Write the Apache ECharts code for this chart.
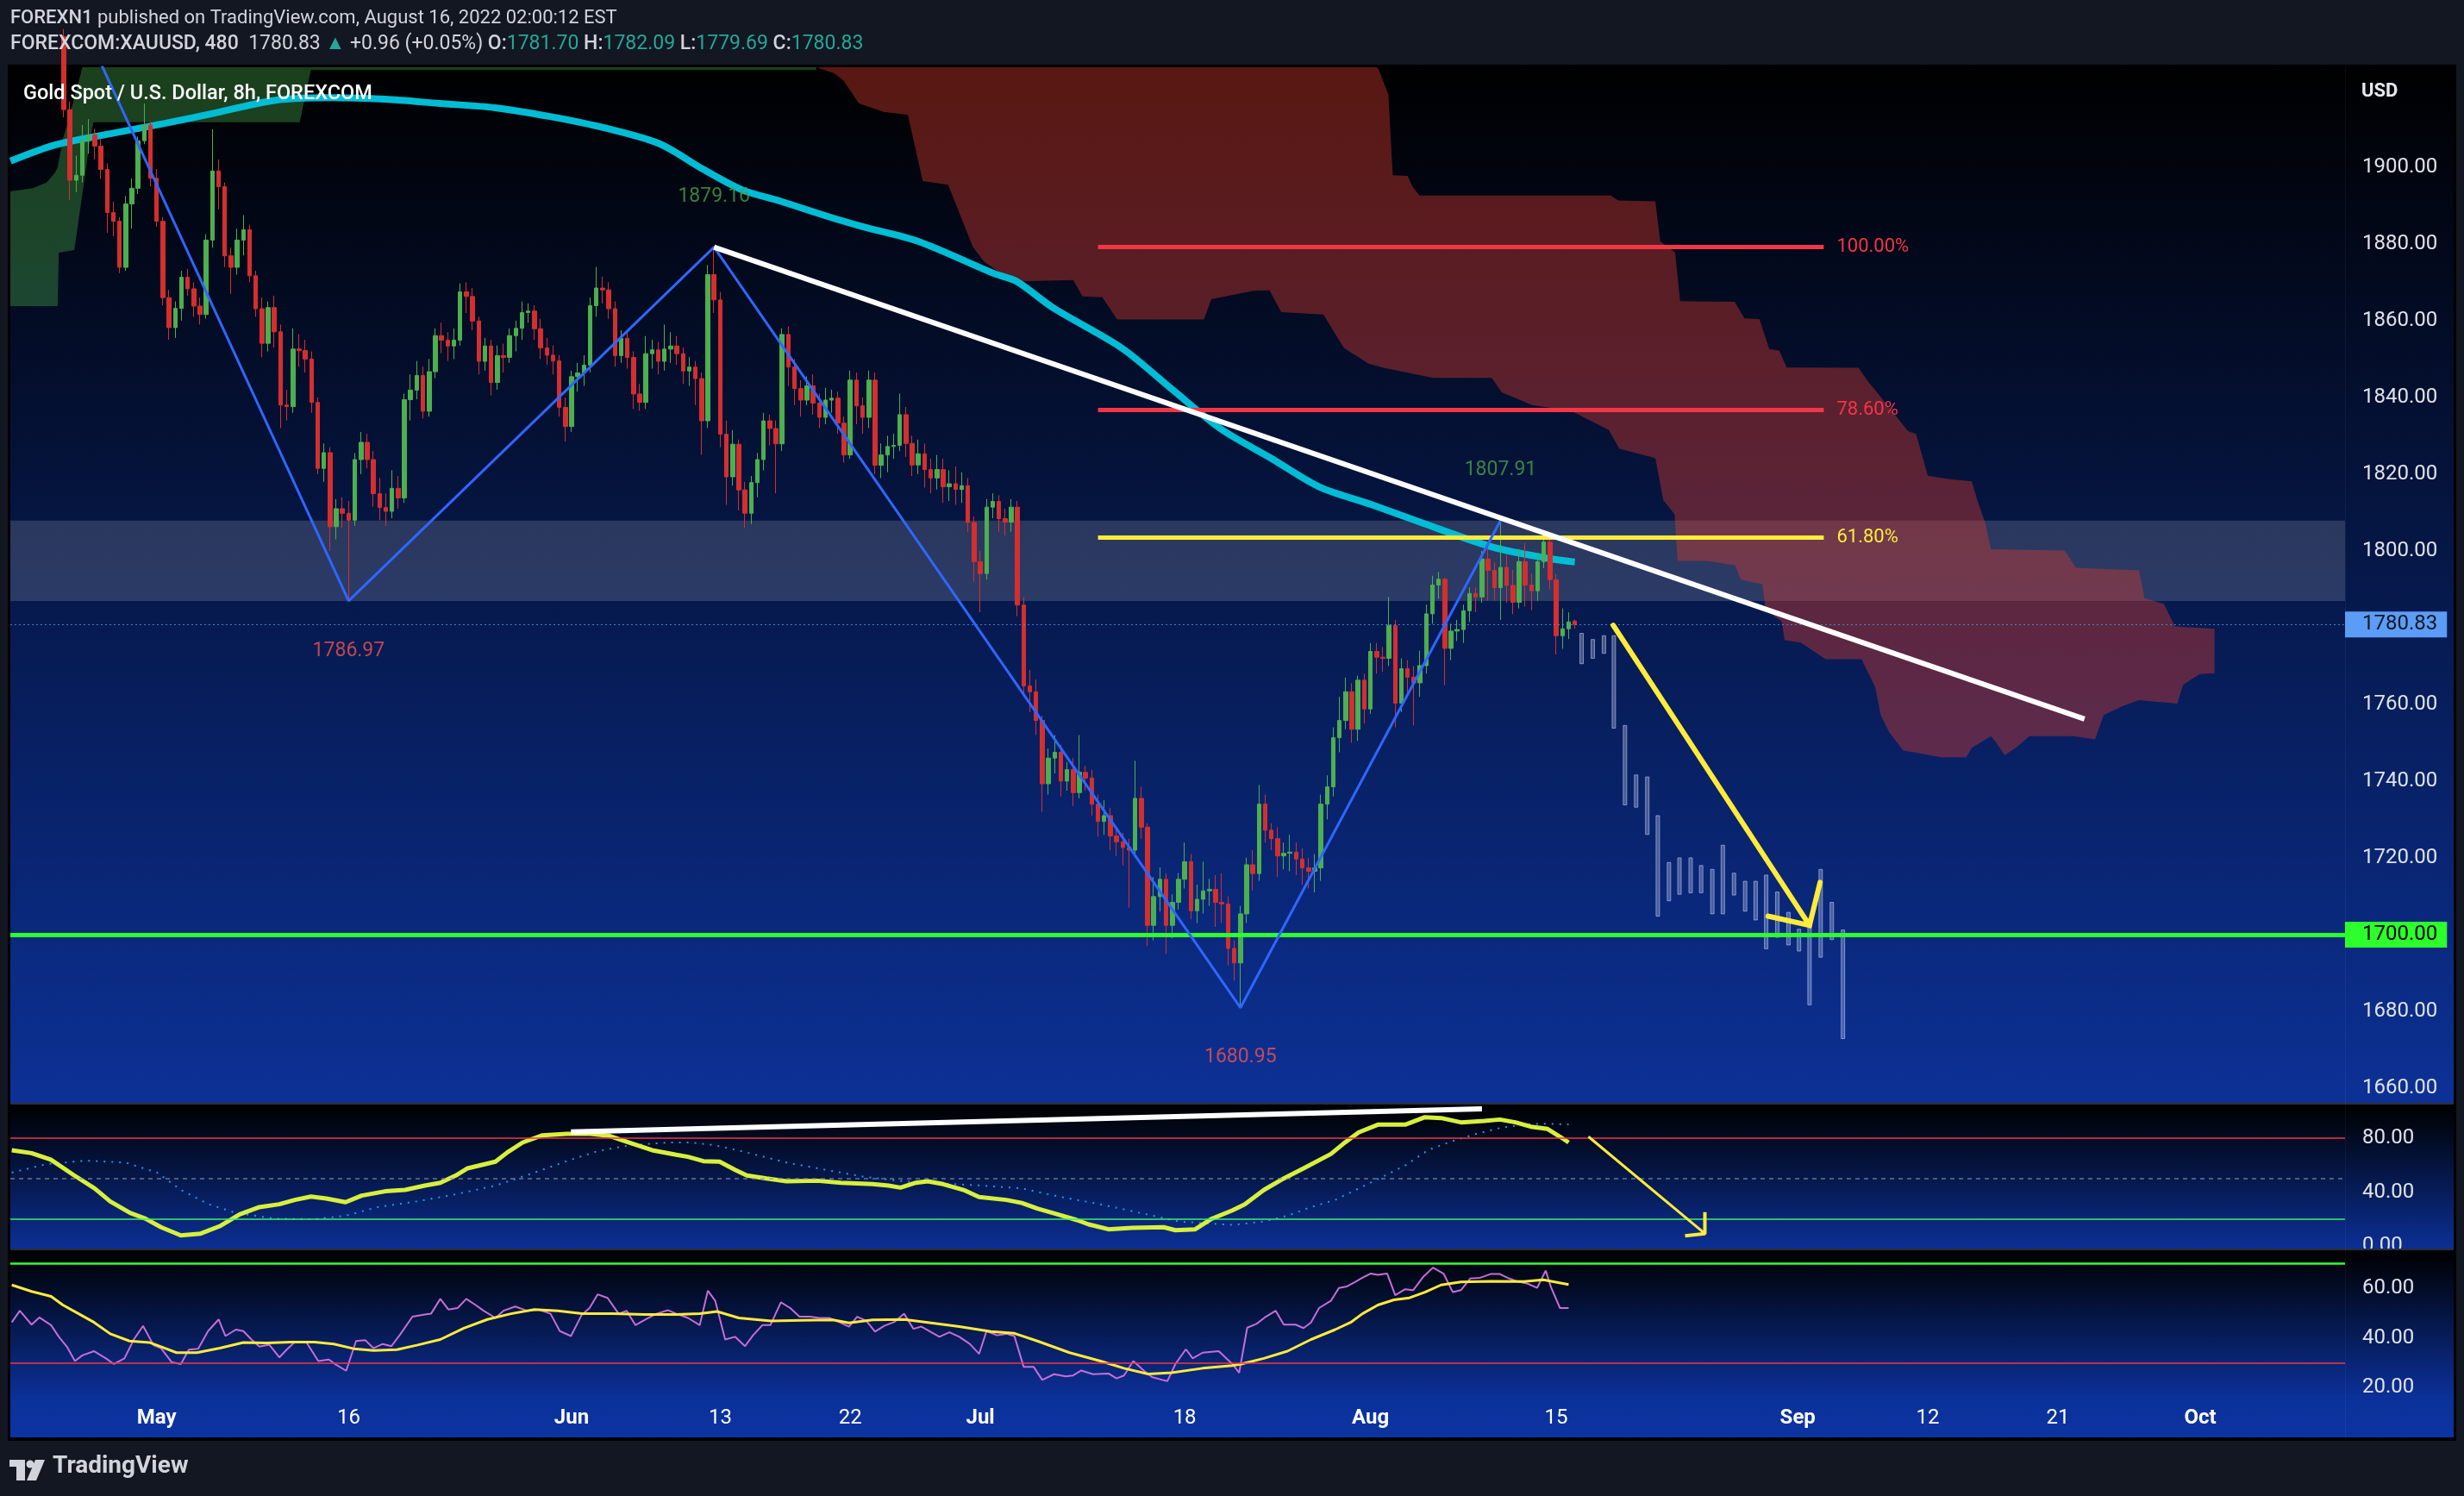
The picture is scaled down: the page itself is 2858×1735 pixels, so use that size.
<!DOCTYPE html>
<html><head><meta charset="utf-8">
<script src="https://cdn.jsdelivr.net/npm/echarts@6/dist/echarts.min.js"></script>
<style>html,body{margin:0;padding:0;background:#131722;}#c{width:2858px;height:1735px;}</style>
</head><body><div id="c"></div>
<script>
// ---------------- DATA ----------------
const tickBars  = [22, 53, 89, 113, 134, 155, 188, 218, 248, 287, 308, 329, 352];
const tickTexts = ['May','16','Jun','13','22','Jul','18','Aug','15','Sep','12','21','Oct'];
const priceTicks = [1660,1680,1700,1720,1740,1760,1780,1800,1820,1840,1860,1880,1900];
const stochTicks = [0,40,80];
const rsiTicks = [20,40,60];

const firstBar = 7;
// [open, high, low, close] for 8h bars starting at firstBar
const candles = [
[1934.0,1936.0,1913.0,1915.0],[1915.0,1917.0,1891.5,1896.6],[1896.6,1903.0,1893.5,1897.9],[1897.9,1911.0,1896.0,1906.9],
[1906.9,1912.5,1903.5,1908.4],[1908.4,1910.0,1902.0,1905.5],[1905.5,1907.5,1897.0,1899.4],[1899.4,1901.0,1882.9,1888.2],
[1888.2,1891.0,1882.0,1885.9],[1885.9,1887.0,1872.4,1873.9],[1873.9,1892.5,1873.0,1890.4],[1890.4,1897.1,1884.0,1894.5],
[1894.5,1908.0,1893.0,1906.9],[1906.9,1916.6,1906.0,1911.0],[1911.0,1912.0,1895.0,1897.1],[1897.1,1899.5,1884.5,1885.9],
[1885.9,1887.0,1864.0,1866.0],[1866.0,1868.0,1855.0,1858.2],[1858.2,1865.0,1855.5,1863.2],[1863.2,1873.0,1860.0,1871.3],
[1871.3,1873.5,1866.5,1868.3],[1868.3,1870.0,1861.0,1863.8],[1863.8,1866.0,1859.0,1861.6],[1861.6,1882.5,1860.5,1881.0],
[1881.0,1909.9,1879.0,1899.0],[1899.0,1902.0,1889.0,1894.9],[1894.9,1896.0,1874.0,1876.9],[1876.9,1879.0,1867.0,1873.9],
[1873.9,1884.0,1872.0,1881.0],[1881.0,1887.5,1877.0,1883.7],[1883.7,1885.0,1870.0,1871.7],[1871.7,1873.0,1861.0,1863.1],
[1863.1,1866.0,1850.5,1854.1],[1854.1,1865.0,1852.0,1863.4],[1863.4,1866.5,1853.0,1857.1],[1857.1,1859.0,1832.0,1838.0],
[1838.0,1842.0,1834.0,1837.6],[1837.6,1858.0,1836.0,1852.6],[1852.6,1856.5,1848.0,1852.2],[1852.2,1855.0,1846.5,1850.0],
[1850.0,1852.0,1836.0,1838.7],[1838.7,1840.0,1820.0,1821.5],[1821.5,1828.0,1818.0,1825.6],[1825.6,1827.0,1800.0,1806.3],
[1806.3,1813.5,1803.0,1811.0],[1811.0,1814.0,1806.0,1809.8],[1809.8,1813.0,1786.97,1808.0],[1808.0,1825.5,1806.5,1823.8],
[1823.8,1831.0,1820.0,1828.3],[1828.3,1830.5,1821.5,1823.8],[1823.8,1826.0,1811.5,1814.9],[1814.9,1819.0,1808.0,1811.3],
[1811.3,1815.0,1806.5,1810.3],[1810.3,1821.0,1808.5,1816.3],[1816.3,1819.5,1811.0,1813.8],[1813.8,1841.0,1812.5,1839.4],
[1839.4,1846.0,1834.0,1841.9],[1841.9,1849.5,1839.5,1845.7],[1845.7,1848.0,1834.5,1836.4],[1836.4,1850.0,1835.0,1846.7],
[1846.7,1858.0,1845.0,1856.1],[1856.1,1859.5,1851.5,1854.9],[1854.9,1857.0,1849.5,1853.4],[1853.4,1858.0,1850.0,1854.9],
[1854.9,1869.7,1853.5,1867.5],[1867.5,1870.0,1862.0,1866.3],[1866.3,1868.5,1857.5,1859.9],[1859.9,1861.0,1846.0,1849.4],
[1849.4,1855.5,1847.0,1853.4],[1853.4,1855.0,1840.5,1843.9],[1843.9,1853.5,1842.0,1850.9],[1850.9,1854.0,1846.5,1850.4],
[1850.4,1858.0,1849.0,1856.1],[1856.1,1860.0,1852.0,1858.0],[1858.0,1865.0,1855.0,1862.1],[1862.1,1864.5,1859.5,1862.5],
[1862.5,1864.0,1855.0,1857.9],[1857.9,1860.5,1850.0,1852.9],[1852.9,1855.5,1848.5,1851.0],[1851.0,1853.5,1846.0,1849.5],
[1849.5,1851.0,1835.0,1837.4],[1837.4,1840.0,1828.5,1832.4],[1832.4,1847.0,1831.0,1845.4],[1845.4,1849.0,1841.5,1846.4],
[1846.4,1851.0,1843.0,1848.4],[1848.4,1866.0,1846.5,1863.9],[1863.9,1874.0,1861.0,1868.5],[1868.5,1871.5,1864.5,1868.0],
[1868.0,1870.0,1860.5,1863.1],[1863.1,1865.0,1848.0,1850.9],[1850.9,1857.5,1849.0,1855.4],[1855.4,1857.0,1847.5,1850.4],
[1850.4,1852.0,1837.0,1840.9],[1840.9,1843.5,1836.5,1838.7],[1838.7,1856.0,1837.0,1851.4],[1851.4,1855.0,1847.5,1852.4],
[1852.4,1854.5,1846.0,1849.4],[1849.4,1859.0,1847.0,1852.6],[1852.6,1857.0,1849.0,1853.4],[1853.4,1856.0,1848.5,1851.4],
[1851.4,1853.0,1843.5,1846.9],[1846.9,1850.5,1843.0,1847.9],[1847.9,1849.5,1838.0,1844.9],[1844.9,1846.5,1825.0,1833.9],
[1833.9,1874.5,1832.0,1872.0],[1872.0,1879.16,1862.0,1865.4],[1865.4,1867.5,1827.0,1830.4],[1830.4,1834.0,1812.0,1819.3],
[1819.3,1831.5,1817.0,1827.8],[1827.8,1829.0,1810.5,1815.9],[1815.9,1818.0,1806.0,1809.8],[1809.8,1819.5,1807.0,1817.8],
[1817.8,1825.5,1814.0,1823.8],[1823.8,1836.0,1821.0,1833.9],[1833.9,1835.5,1827.5,1831.9],[1831.9,1834.0,1815.0,1827.9],
[1827.9,1858.0,1826.0,1856.4],[1856.4,1858.5,1843.0,1847.9],[1847.9,1850.0,1838.0,1842.3],[1842.3,1844.5,1835.0,1839.3],
[1839.3,1845.5,1838.0,1843.0],[1843.0,1846.0,1835.5,1838.5],[1838.5,1841.0,1832.0,1834.8],[1834.8,1842.5,1833.0,1839.3],
[1839.3,1842.0,1836.0,1839.8],[1839.8,1841.5,1830.5,1833.3],[1833.3,1835.0,1823.0,1825.0],[1825.0,1847.0,1824.0,1844.5],
[1844.5,1846.5,1833.0,1837.8],[1837.8,1840.0,1830.5,1834.8],[1834.8,1847.0,1832.0,1844.5],[1844.5,1846.5,1820.0,1822.3],
[1822.3,1828.0,1819.0,1825.0],[1825.0,1830.0,1820.5,1827.2],[1827.2,1830.5,1824.0,1827.5],[1827.5,1841.0,1826.0,1835.5],
[1835.5,1837.5,1824.5,1828.0],[1828.0,1830.0,1819.5,1822.4],[1822.4,1829.0,1820.0,1825.3],[1825.3,1828.0,1816.5,1821.2],
[1821.2,1824.0,1815.0,1819.0],[1819.0,1825.0,1816.0,1821.2],[1821.2,1824.0,1812.5,1816.7],[1816.7,1821.0,1813.0,1817.5],
[1817.5,1822.0,1812.0,1816.0],[1816.0,1820.5,1812.5,1817.0],[1817.0,1819.0,1805.0,1807.4],[1807.4,1809.0,1792.0,1797.2],
[1797.2,1800.0,1784.0,1794.1],[1794.1,1813.5,1792.5,1811.4],[1811.4,1815.0,1808.5,1812.9],[1812.9,1814.5,1805.0,1808.4],
[1808.4,1811.0,1804.0,1807.5],[1807.5,1813.5,1805.0,1811.4],[1811.4,1813.0,1783.0,1785.9],[1785.9,1788.0,1762.0,1764.8],
[1764.8,1769.0,1758.0,1763.3],[1763.3,1766.5,1752.0,1755.8],[1755.8,1757.0,1732.0,1739.3],[1739.3,1748.5,1736.5,1746.0],
[1746.0,1752.0,1742.0,1747.5],[1747.5,1749.5,1736.0,1740.0],[1740.0,1745.0,1737.5,1743.0],[1743.0,1746.0,1733.5,1737.0],
[1737.0,1752.0,1735.5,1742.3],[1742.3,1744.0,1737.5,1740.8],[1740.8,1743.0,1731.0,1734.0],[1734.0,1736.5,1725.5,1729.5],
[1729.5,1735.0,1726.0,1731.0],[1731.0,1733.0,1722.0,1725.7],[1725.7,1728.0,1720.5,1724.2],[1724.2,1726.5,1718.0,1722.7],
[1722.7,1725.0,1707.0,1722.0],[1722.0,1745.3,1720.0,1735.5],[1735.5,1738.5,1725.0,1728.0],[1728.0,1729.0,1697.0,1702.4],
[1702.4,1715.0,1698.5,1709.9],[1709.9,1717.5,1706.0,1714.4],[1714.4,1716.0,1695.0,1702.4],[1702.4,1710.5,1699.0,1708.4],
[1708.4,1716.0,1706.5,1714.4],[1714.4,1724.0,1712.0,1719.0],[1719.0,1721.0,1704.0,1706.2],[1706.2,1713.0,1703.0,1709.2],
[1709.2,1719.0,1705.5,1711.4],[1711.4,1714.5,1707.5,1711.8],[1711.8,1715.5,1702.0,1708.4],[1708.4,1716.0,1703.0,1708.0],
[1708.0,1710.0,1692.0,1696.4],[1696.4,1698.5,1688.0,1692.6],[1692.6,1707.5,1680.95,1705.4],[1705.4,1720.0,1703.0,1718.2],
[1718.2,1722.0,1711.5,1715.9],[1715.9,1739.0,1714.0,1734.0],[1734.0,1736.5,1724.0,1727.2],[1727.2,1729.0,1722.0,1725.0],
[1725.0,1728.0,1715.0,1720.5],[1720.5,1724.0,1717.0,1721.2],[1721.2,1726.0,1716.5,1721.5],[1721.5,1724.0,1715.5,1719.7],
[1719.7,1722.5,1713.0,1717.4],[1717.4,1720.0,1712.0,1716.5],[1716.5,1721.0,1711.0,1717.4],[1717.4,1736.5,1714.0,1734.0],
[1734.0,1741.5,1730.0,1738.5],[1738.5,1754.0,1736.0,1751.3],[1751.3,1762.0,1747.5,1755.8],[1755.8,1767.0,1753.5,1763.3],
[1763.3,1765.5,1750.0,1753.5],[1753.5,1767.5,1750.5,1766.3],[1766.3,1768.0,1755.0,1758.8],[1758.8,1776.0,1757.5,1773.8],
[1773.8,1776.0,1768.0,1772.3],[1772.3,1775.0,1768.5,1772.0],[1772.0,1788.0,1770.0,1780.6],[1780.6,1782.0,1754.0,1760.3],
[1760.3,1772.0,1758.0,1769.3],[1769.3,1771.5,1763.0,1767.1],[1767.1,1770.0,1754.5,1765.6],[1765.6,1774.0,1762.0,1770.1],
[1770.1,1786.0,1768.0,1783.6],[1783.6,1793.5,1781.0,1791.1],[1791.1,1794.5,1787.5,1792.6],[1792.6,1793.0,1765.0,1774.6],
[1774.6,1781.0,1771.5,1779.1],[1779.1,1782.0,1776.5,1779.5],[1779.5,1786.0,1776.0,1784.4],[1784.4,1790.5,1781.5,1788.9],
[1788.9,1790.5,1784.0,1788.0],[1788.0,1800.0,1786.5,1797.9],[1797.9,1801.0,1787.0,1794.9],[1794.9,1797.0,1787.0,1790.4],
[1790.4,1807.91,1782.0,1795.7],[1795.7,1799.0,1786.5,1791.0],[1791.0,1795.0,1783.5,1786.6],[1786.6,1800.5,1785.0,1797.2],
[1797.2,1802.0,1785.5,1791.1],[1791.1,1794.0,1784.5,1789.6],[1789.6,1799.5,1787.0,1797.2],[1797.2,1803.5,1795.5,1802.3],
[1802.3,1804.0,1790.0,1792.5],[1792.5,1794.0,1773.0,1777.9],[1777.9,1785.0,1774.5,1779.7],[1779.7,1784.0,1777.0,1781.5],
[1781.70,1782.09,1779.69,1780.83]
];

// moving average (cyan), [bar, price]
const maLine = [[-1.6,1901.6],[5.6,1905.8],[14.5,1908.7],[23.3,1911.4],[32.2,1914.4],[41.0,1917.4],[50.0,1918.1],[58.8,1917.7],
[67.7,1916.6],[76.6,1915.5],[85.5,1913.2],[94.4,1910.2],[103.2,1906.1],[110.3,1899.4],[116.5,1894.1],[122.8,1891.1],[129.9,1887.4],
[136.0,1884.5],[144.9,1880.7],[157.2,1872.3],[160.9,1870.2],[166.8,1863.3],[177.9,1852.8],[185.9,1842.2],[193.9,1831.7],[201.9,1824.2],
[209.7,1816.7],[217.9,1812.2],[225.8,1807.6],[237.9,1800.9],[247.3,1797.9],[251,1797.1]];

// ichimoku cloud boundaries, [bar, price]
const greenCloudUpper = [[-3,1893.4],[2.0,1894.5],[4.2,1896.0],[5.6,1898.6],[6.0,1900.0],[6.9,1907.6],[8.2,1915.0],[10.0,1928],[10.5,1945],[128.5,1945]];
const greenCloudLower = [[-3,1863.8],[6.0,1863.8],[6.2,1877.7],[8.7,1878.4],[10.0,1893.0],[11.3,1908.0],[11.8,1911.7],[45.1,1911.7],[46.9,1925.3],[128.5,1925.3]];
const redCloudUpper = [[128.5,1945],[219.0,1945],[219.3,1925.6],[220.9,1918.9],[221.6,1897.9],[224.0,1897.7],[224.8,1894.9],[225.9,1892.6],
[256.8,1892.6],[258.0,1891.3],[264.0,1891.1],[264.8,1880.7],[267.2,1877.7],[268.0,1865.1],[276.8,1864.9],[278.4,1860.6],[280.8,1860.4],
[282.4,1852.6],[284.0,1852.2],[285.2,1847.8],[296.8,1847.7],[298.4,1844.0],[299.6,1841.7],[304.8,1831.2],[306.1,1830.5],[308.0,1819.6],
[311.5,1818.7],[315.1,1818.1],[316.0,1813.2],[317.3,1807.1],[318.2,1800.4],[330.1,1800.1],[331.9,1795.6],[342.1,1794.9],[343.0,1787.6],
[346.1,1786.2],[347.9,1780.3],[354.3,1779.7]];
const redCloudLower = [[128.5,1930],[131.3,1924.5],[132.9,1922.6],[135.4,1916.6],[139.4,1914.4],[143.3,1913.6],[145.7,1896.4],[149.8,1895.4],
[153.8,1879.2],[155.6,1875.4],[160.1,1870.2],[170.0,1870.6],[171.5,1866.3],[174.7,1866.1],[177.1,1860.3],[191.1,1860.3],[192.3,1865.6],
[199.1,1867.8],[201.7,1867.9],[203.6,1862.2],[210.4,1861.6],[213.7,1852.9],[217.7,1848.8],[220.1,1847.7],[228.1,1845.1],[237.6,1845.1],
[239.2,1841.3],[244.1,1838.0],[250.4,1836.5],[256.5,1831.5],[258.2,1826.6],[264.0,1824.2],[265.3,1813.2],[267.1,1809.6],[267.6,1797.4],
[272.4,1797.4],[276.9,1796.2],[277.8,1792.5],[281.3,1791.3],[281.8,1784.6],[284.4,1781.6],[284.9,1776.7],[287.5,1776.1],[291.5,1771.8],
[297.3,1771.8],[299.5,1764.5],[300.4,1757.2],[301.7,1752.9],[304.0,1748.0],[310.2,1746.2],[314.2,1746.2],[315.1,1748.7],[318.2,1751.7],
[319.1,1749.9],[320.4,1746.8],[322.2,1748.7],[324.4,1751.7],[331.5,1751.7],[335.0,1750.9],[336.4,1757.2],[339.5,1759.6],[342.1,1761.1],
[348.3,1760.2],[349.2,1765.1],[351.9,1767.9],[354.3,1768.1]];

// zigzag pivots
const zigzagBars   = [-5, 53, 112, 197, 239];
const zigzagPrices = [1990, 1786.97, 1879.16, 1680.95, 1807.91];
const pivotLabelBars   = [112, 53, 197, 239];
const pivotLabelPrices = [1879.16, 1786.97, 1680.95, 1807.91];
const pivotIsHigh      = [true, false, false, true];

// drawings
const trendLine = [[112,1879.16],[333.3,1756.2]];
const fibLevels = [1879.16, 1836.75, 1803.44];
const fibTexts  = ['100.00%','78.60%','61.80%'];
const fibFrom = 174.0, fibTo = 291.2;
const zoneLow = 1786.97, zoneHigh = 1807.91;
const supportLevel = 1700;
const lastPrice = 1780.83;
const projArrow = [[257.2,1780.6],[288.9,1702.4]];
const projArrowHead = [[282.2,1704.8],[288.9,1702.4],[290.6,1713.6]];
// projected "bars pattern": [bar, high, low]
const ghostBars = [[252.1,1778.5,1770.6],[253.9,1776.9,1772.0],[255.7,1777.9,1773.3],[257.3,1777.9,1753.8],[259.1,1754.5,1733.8],
[260.9,1741.6,1733.2],[262.7,1741.1,1726.1],[264.4,1731.0,1704.8],[266.2,1718.8,1708.8],[267.9,1720.0,1710.5],[269.7,1720.0,1710.9],
[271.4,1718.0,1710.9],[273.2,1717.0,1705.4],[274.9,1723.3,1705.4],[276.7,1716.0,1710.3],[278.5,1713.9,1706.1],[280.2,1713.9,1703.8],
[281.9,1715.5,1696.3],[283.7,1711.1,1699.3],[285.5,1705.8,1697.3],[287.2,1701.4,1695.7],[288.9,1704.2,1681.7],[290.7,1717.0,1694.1],
[292.5,1708.4,1698.7],[294.3,1701.2,1672.9]];

// stochastic
const stochK = [[-1.4,71.1],[1.8,68.9],[4.9,64.1],[8.7,52.4],[12.0,42.8],[14.5,33.2],[17.7,24.7],[20.2,20.4],[22.7,14.1],[25.9,8.1],
[29.1,9.4],[32.3,15.1],[35.4,23.6],[38.6,29.0],[41.8,31.1],[44.3,34.3],[46.9,36.8],[49.4,35.3],[52.5,32.6],[55.1,37.5],[58.9,40.7],
[62.1,41.7],[65.3,44.9],[67.8,47.0],[70.3,52.4],[72.2,57.7],[76.7,62.6],[78.6,69.4],[81.1,76.8],[84.3,82.1],[88.2,83.2],[92.0,83.2],
[95.1,81.7],[98.3,76.8],[102.0,71.1],[105.9,67.7],[107.8,66.2],[110.3,63.0],[112.9,62.6],[115.4,56.6],[117.3,52.4],[120.5,50.2],
[123.7,48.1],[128.7,48.5],[132.5,47.0],[137.6,46.0],[140.2,44.9],[142.1,43.4],[144.6,47.0],[146.5,48.1],[149.0,46.0],[152.3,41.7],
[154.8,36.4],[159.2,34.3],[161.7,32.1],[164.2,27.9],[167.5,23.6],[170.6,19.4],[172.5,16.2],[175.7,12.6],[179.5,13.6],[184.6,14.1],
[186.5,11.9],[189.7,12.6],[192.2,20.0],[195.7,26.6],[197.7,31.1],[200.8,41.7],[204.0,50.2],[207.2,57.7],[211.6,68.3],[213.6,75.8],
[216.1,84.3],[219.2,90.0],[223.6,90.0],[226.8,95.5],[229.4,94.9],[232.6,91.7],[236.4,92.8],[238.9,93.8],[241.4,91.7],[243.9,88.5],
[246.6,86.8],[248.6,81.1],[250.0,76.8]];
const stochD = [[-1.4,54.5],[4.3,60.9],[10.6,63.4],[17.0,61.9],[22.1,54.5],[25.9,41.7],[30.4,31.1],[34.8,24.7],[41.1,20.4],[47.5,20.0],
[52.5,22.6],[57.7,29.0],[64.0,33.2],[70.3,38.5],[76.7,44.9],[83.0,54.5],[88.2,63.0],[93.2,70.4],[98.3,74.7],[104.7,76.8],[108.4,76.8],
[112.2,74.7],[117.3,69.4],[123.7,62.0],[130.0,56.6],[136.4,51.3],[142.7,48.1],[149.0,46.4],[155.4,44.9],[161.7,42.8],[168.1,36.4],
[174.4,31.1],[180.8,24.7],[187.1,18.3],[195.7,15.8],[200.8,18.3],[204.6,22.6],[208.4,29.0],[212.3,34.3],[216.1,42.8],[219.9,51.3],
[223.6,59.8],[227.4,71.5],[231.3,77.9],[235.1,83.2],[238.9,87.5],[242.8,90.2],[245.9,90.7],[250.0,90.2]];
const stochTrend = [[88.9,84.7],[236.0,101.7]];
const stochArrow = [[253.2,81.1],[272.0,9.4]];
const stochArrowHead = [[268.8,7.7],[272.0,9.4],[272.0,25.3]];

// RSI
const rsi = [[-1.4,46.3],[-0.1,51.0],[1.8,45.4],[3.05,48.3],[4.95,45.2],[6.2,40.5],[7.5,36.5],[8.8,30.7],[10.0,33.0],[11.9,34.7],
[13.8,31.8],[15.1,29.5],[16.8,31.8],[18.3,39.4],[19.8,44.9],[21.5,37.1],[22.7,35.9],[24.4,30.3],[25.9,29.5],[27.2,35.3],[28.7,35.7],
[30.3,42.8],[32.0,47.5],[33.1,40.8],[34.8,43.4],[36.0,42.8],[37.3,39.4],[38.6,36.5],[40.2,37.3],[41.8,32.2],[43.0,35.3],[44.3,38.4],
[46.2,38.2],[48.1,30.7],[49.8,31.3],[51.0,29.2],[52.6,26.8],[54.2,38.8],[55.7,39.1],[57.0,35.9],[58.5,37.6],[59.9,36.7],[61.4,41.7],
[63.3,48.6],[65.3,49.5],[66.3,49.8],[67.8,55.8],[69.1,51.5],[70.6,52.1],[72.0,55.8],[73.5,53.3],[74.8,51.0],[76.7,48.1],[78.0,51.0],
[79.9,52.7],[81.8,51.0],[83.7,51.5],[85.6,49.8],[87.1,42.8],[88.9,40.8],[90.6,49.2],[91.9,52.1],[93.2,57.6],[94.8,56.2],[96.6,49.8],
[97.9,51.0],[99.3,45.2],[101.1,47.7],[102.7,49.8],[104.6,51.2],[105.9,49.8],[107.8,48.1],[109.7,45.2],[111.0,59.1],[112.2,55.0],
[113.8,39.4],[115.4,40.5],[117.0,36.7],[118.3,41.1],[119.8,45.2],[121.1,45.2],[122.8,54.4],[124.3,52.1],[125.8,48.6],[127.5,48.6],
[129.0,48.1],[130.6,48.1],[132.3,46.3],[133.8,44.6],[135.1,48.6],[136.6,46.9],[138.0,42.6],[139.5,44.9],[141.2,46.6],[142.7,49.8],
[144.2,43.7],[145.5,44.6],[147.1,42.3],[148.4,40.5],[150.0,42.3],[151.6,40.5],[153.3,37.6],[154.8,33.6],[156.0,42.8],[157.7,41.1],
[159.2,41.7],[160.5,40.8],[162.0,28.4],[163.6,28.4],[165.0,23.1],[166.9,25.4],[168.8,24.5],[170.0,24.9],[171.3,26.9],[173.2,25.4],
[175.7,25.7],[177.0,23.7],[178.2,24.9],[179.7,30.7],[181.5,26.6],[182.7,24.3],[184.4,23.1],[185.2,22.6],[186.5,29.5],[188.2,35.5],
[189.3,31.8],[190.9,34.1],[193.5,34.7],[195.7,29.5],[196.8,26.0],[198.1,44.2],[199.6,45.7],[201.1,48.6],[202.7,51.0],[204.0,45.4],
[205.9,45.4],[207.2,44.0],[208.4,46.3],[209.7,52.1],[211.6,55.0],[212.9,60.2],[214.2,60.8],[215.5,62.6],[216.7,64.3],[218.0,66.0],
[219.2,65.5],[220.7,66.0],[222.0,57.3],[223.6,59.7],[224.9,59.3],[226.6,64.9],[228.1,68.4],[229.8,66.0],[231.3,58.5],[232.6,59.3],
[234.1,64.0],[235.7,64.3],[237.4,65.8],[238.9,65.8],[240.4,64.0],[241.7,62.8],[243.3,62.0],[244.9,60.2],[246.3,67.2],[247.2,60.2],
[248.6,52.1],[250.0,52.1]];
const rsiMA = [[-1.4,61.4],[1.8,58.8],[4.95,56.8],[6.85,53.3],[9.4,49.8],[11.9,46.3],[14.5,41.7],[17.6,38.8],[20.8,38.2],[22.7,36.5],
[25.2,34.1],[28.5,34.1],[32.2,35.9],[36.0,38.2],[39.8,38.0],[43.7,38.4],[47.5,38.4],[50.6,37.6],[53.8,35.7],[57.0,35.0],[60.8,35.3],
[64.0,37.1],[67.8,39.4],[71.6,44.0],[75.4,47.5],[79.2,49.8],[83.0,51.5],[86.8,51.0],[90.7,49.8],[95.7,49.8],[100.8,49.5],[105.9,49.5],
[109.7,49.8],[112.5,50.7],[116.0,48.1],[121.2,46.9],[126.2,47.1],[131.2,47.3],[133.8,46.1],[137.6,47.3],[142.7,47.5],[146.5,46.3],
[151.6,44.6],[156.7,42.6],[160.5,41.9],[164.2,38.8],[169.4,34.1],[174.4,30.7],[178.2,27.8],[182.1,25.5],[185.9,26.0],[190.9,27.8],
[195.7,28.9],[197.1,29.5],[200.8,31.8],[204.6,34.7],[208.4,39.4],[212.3,43.4],[214.8,46.3],[216.7,49.8],[219.2,53.3],[221.8,55.4],
[224.3,56.2],[226.8,58.5],[229.4,61.4],[232.6,62.6],[237.6,62.9],[242.8,62.8],[245.9,63.5],[250.0,61.6]];

// ---------------- LAYOUT / STYLE ----------------
const FONT = 'Roboto';
const PL = 12, PW = 2708;
const XMIN = -1.63, XMAX = 375.37;
const G = [{top:78,height:1201},{top:1281,height:167},{top:1450,height:168}];
const YR = [[1656.16,1926.04],[-1.66,104.88],[16.97,75.4]];
const axisTxt = {color:'#dfe2e8', fontSize:24, fontFamily:FONT};

const chart = echarts.init(document.getElementById('c'), null, {renderer:'canvas'});
const grad = (a,b)=>new echarts.graphic.LinearGradient(0,0,0,1,[{offset:0,color:a},{offset:1,color:b}]);

function xAxisFor(i){
  const base = {type:'value', gridIndex:i, min:XMIN, max:XMAX, axisLine:{show:false}, axisTick:{show:false}, splitLine:{show:false}};
  if(i===2){
    base.axisLabel = {show:true, customValues:tickBars, margin:15, fontSize:24, lineHeight:24, color:'#ffffff', fontFamily:FONT,
      formatter:(v)=>{const k=tickBars.indexOf(Math.round(v)); if(k<0) return ''; const t=tickTexts[k]; return /^\d+$/.test(t)?'{d|'+t+'}':'{m|'+t+'}';},
      rich:{m:{fontWeight:'bold',fontSize:24,lineHeight:24,color:'#ffffff',fontFamily:FONT},d:{fontSize:24,lineHeight:24,color:'#ffffff',fontFamily:FONT}}};
  } else base.axisLabel = {show:false};
  return base;
}
function yAxisFor(i, ticks){
  return {type:'value', gridIndex:i, position:'right', min:YR[i][0], max:YR[i][1], axisLine:{show:false}, axisTick:{show:false}, splitLine:{show:false},
    axisLabel:Object.assign({show:true, customValues:ticks, margin:20, formatter:(v)=>Number(v).toFixed(2)}, axisTxt)};
}
const noSym = {symbol:'none', showSymbol:false, silent:true, animation:false};
function hLine(value, color, width, type){ return {yAxis:value, lineStyle:{color, width, type:type||'solid'}, label:{show:false}}; }

const candleData = candles.map((r,k)=>[firstBar+k, r[0], r[3], r[2], r[1]]);
const clouds = [
  {upper:greenCloudUpper, lower:greenCloudLower, fill:'rgba(67,160,71,0.40)'},
  {upper:redCloudUpper, lower:redCloudLower, fill:'rgba(212,58,46,0.42)'}
];

const option = {
  animation:false,
  backgroundColor:'#131722',
  grid: G.map(g=>({left:PL, top:g.top, width:PW, height:g.height, containLabel:false, outerBoundsMode:'none'})),
  xAxis:[xAxisFor(0), xAxisFor(1), xAxisFor(2)],
  yAxis:[yAxisFor(0, priceTicks), yAxisFor(1, stochTicks), yAxisFor(2, rsiTicks)],
  title:[
    {left:12, top:10, padding:0, text:'{b|FOREXN1} published on TradingView.com, August 16, 2022 02:00:12 EST',
      textStyle:{color:'#d1d4dc', fontSize:22, fontFamily:FONT, fontWeight:'normal', rich:{b:{color:'#d1d4dc', fontSize:22, fontFamily:FONT, fontWeight:500}}}},
    {left:12, top:40, padding:0, text:'{b|FOREXCOM:XAUUSD, 480}  1780.83 {t|▲} +0.96 (+0.05%) {b|O:}{t|1781.70} {b|H:}{t|1782.09} {b|L:}{t|1779.69} {b|C:}{t|1780.83}',
      textStyle:{color:'#d1d4dc', fontSize:23, fontFamily:FONT, fontWeight:'normal',
        rich:{b:{color:'#d1d4dc', fontSize:23, fontFamily:FONT, fontWeight:500}, t:{color:'#26a69a', fontSize:23, fontFamily:FONT}}}},
    {left:27, top:97, padding:0, text:'Gold Spot / U.S. Dollar, 8h, FOREXCOM', textStyle:{color:'#ffffff', fontSize:23.5, fontFamily:FONT, fontWeight:500}, z:20},
    {left:2739, top:95, padding:0, text:'USD', textStyle:{color:'#e8eaef', fontSize:22, fontFamily:FONT, fontWeight:'bold'}},
    {left:61, top:1687, padding:0, text:'TradingView', textStyle:{color:'#d1d4dc', fontSize:28, fontFamily:FONT, fontWeight:'bold'}}
  ],
  graphic:[
    {type:'rect', z:-10, silent:true, shape:{x:9,y:75,width:2840,height:1596}, style:{fill:'#000000'}},
    {type:'rect', z:-9, silent:true, shape:{x:12,y:78,width:2834,height:1201}, style:{fill:grad('#000000','#0c3196')}},
    {type:'rect', z:-9, silent:true, shape:{x:12,y:1279,width:2834,height:2}, style:{fill:'#2a2e39'}},
    {type:'rect', z:-9, silent:true, shape:{x:12,y:1281,width:2834,height:167}, style:{fill:grad('#000000','#0b2f94')}},
    {type:'rect', z:-9, silent:true, shape:{x:12,y:1448,width:2834,height:2}, style:{fill:'#2a2e39'}},
    {type:'rect', z:-9, silent:true, shape:{x:12,y:1450,width:2834,height:168}, style:{fill:grad('#000000','#0b2f96')}},
    {type:'rect', z:-9, silent:true, shape:{x:12,y:1618,width:2834,height:49}, style:{fill:grad('#0b3098','#0c34a2')}},
    {type:'rect', z:-8, silent:true, shape:{x:2720,y:78,width:1,height:1589}, style:{fill:'rgba(255,255,255,0.05)'}},
    // clip the half-hidden stoch 0.00 label
    {type:'rect', z:50, silent:true, shape:{x:2722,y:1448,width:124,height:2}, style:{fill:'#2a2e39'}},
    {type:'rect', z:50, silent:true, shape:{x:2722,y:1450,width:124,height:12}, style:{fill:'#000208'}},
    // TradingView logo mark
    {type:'rect', z:20, silent:true, shape:{x:11,y:1693,width:18,height:8}, style:{fill:'#d1d4dc'}},
    {type:'rect', z:20, silent:true, shape:{x:19,y:1693,width:10,height:24}, style:{fill:'#d1d4dc'}},
    {type:'circle', z:20, silent:true, shape:{cx:35,cy:1698,r:4.5}, style:{fill:'#d1d4dc'}},
    {type:'polygon', z:20, silent:true, shape:{points:[[41,1693],[52,1693],[42,1717],[31,1717]]}, style:{fill:'#d1d4dc'}}
  ],
  series:[
    // ichimoku cloud
    {type:'custom', xAxisIndex:0, yAxisIndex:0, z:1, silent:true, clip:true, encode:{x:0,y:1},
      data:[[0,1800],[1,1800]],
      renderItem:(params, api)=>{
        const c = clouds[params.dataIndex];
        const top = params.coordSys.y;
        const f = p=>{const q=api.coord(p); return [q[0], Math.max(q[1], top)];};
        const pts = c.upper.map(f).concat(c.lower.slice().reverse().map(f));
        return {type:'polygon', shape:{points:pts}, style:{fill:c.fill}};
      }},
    // grey zone between pivots
    Object.assign({type:'line', xAxisIndex:0, yAxisIndex:0, z:2, data:[], lineStyle:{opacity:0},
      markArea:{silent:true, itemStyle:{color:'rgba(255,255,255,0.15)'}, data:[[{yAxis:zoneLow},{yAxis:zoneHigh}]]}}, noSym),
    // moving average
    Object.assign({type:'line', xAxisIndex:0, yAxisIndex:0, z:3, data:maLine, smooth:0.3, lineStyle:{color:'#00bcd4', width:8}}, noSym),
    // candles
    {type:'candlestick', xAxisIndex:0, yAxisIndex:0, z:4, silent:true, barWidth:5, data:candleData,
      itemStyle:{color:'#4caf50', color0:'#d32f2f', borderColor:'#4caf50', borderColor0:'#d32f2f', borderWidth:1}},
    // projected bars
    {type:'custom', xAxisIndex:0, yAxisIndex:0, z:4, silent:true, encode:{x:0,y:[1,2]}, data:ghostBars,
      renderItem:(params, api)=>{
        const a = api.coord([api.value(0), api.value(1)]);
        const b = api.coord([api.value(0), api.value(2)]);
        return {type:'rect', shape:{x:a[0]-2, y:a[1], width:4, height:b[1]-a[1]},
          style:{fill:'rgba(185,198,236,0.35)', stroke:'rgba(205,215,245,0.55)', lineWidth:1}};
      }},
    // zigzag
    Object.assign({type:'line', xAxisIndex:0, yAxisIndex:0, z:5, data:zigzagBars.map((b,k)=>[b,zigzagPrices[k]]), lineStyle:{color:'#2f66ff', width:3}}, noSym),
    // white trend line
    Object.assign({type:'line', xAxisIndex:0, yAxisIndex:0, z:6, data:trendLine, lineStyle:{color:'#ffffff', width:6}}, noSym),
    // fib levels + horizontal price lines
    Object.assign({type:'line', xAxisIndex:0, yAxisIndex:0, z:6, data:[], lineStyle:{opacity:0},
      markLine:{silent:true, symbol:['none','none'], animation:false, emphasis:{disabled:true},
        data:fibLevels.map((lv,k)=>{
          const col = k===2 ? '#ffeb3b' : '#f23645';
          return [{coord:[fibFrom,lv], lineStyle:{color:col,width:5,type:'solid'}},
                  {coord:[fibTo,lv], label:{show:true, position:'end', distance:15, formatter:fibTexts[k], color:col, fontSize:22, fontFamily:FONT}}];
        }).concat([
          {yAxis:lastPrice, lineStyle:{color:'rgba(91,156,246,0.75)', width:1, type:[2,3]},
            label:{show:true, position:'end', distance:0, formatter:(p)=>Number(p.value).toFixed(2), backgroundColor:'#5b9cf6', color:'#131722',
              fontSize:24, lineHeight:24, fontFamily:FONT, padding:[3,11,3,20]}},
          {yAxis:supportLevel, lineStyle:{color:'#2cff2c', width:5, type:'solid'},
            label:{show:true, position:'end', distance:0, formatter:(p)=>Number(p.value).toFixed(2), backgroundColor:'#2cff2c', color:'#000000',
              fontSize:24, lineHeight:24, fontFamily:FONT, padding:[3,11,3,20]}}
        ])}}, noSym),
    // projection arrow
    Object.assign({type:'line', xAxisIndex:0, yAxisIndex:0, z:7, data:projArrow, lineStyle:{color:'#ffeb3b', width:6, cap:'round'}}, noSym),
    Object.assign({type:'line', xAxisIndex:0, yAxisIndex:0, z:7, data:projArrowHead, lineStyle:{color:'#ffeb3b', width:6, cap:'round', join:'miter'}}, noSym),
    // pivot labels
    {type:'scatter', xAxisIndex:0, yAxisIndex:0, z:8, silent:true, symbolSize:0.1, itemStyle:{color:'transparent'},
      data:pivotLabelBars.map((b,k)=>({value:[b,pivotLabelPrices[k]],
        label:{show:true, position:'inside', offset:[0, pivotIsHigh[k]?-58:58], formatter:pivotLabelPrices[k].toFixed(2),
          color:pivotIsHigh[k]?'#43a047':'#ef5350', fontSize:23, fontFamily:FONT}}))},

    // ---- stochastic pane ----
    Object.assign({type:'line', xAxisIndex:1, yAxisIndex:1, z:3, data:stochD, lineStyle:{color:'#2196f3', width:2, type:[2,7]},
      markLine:{silent:true, symbol:['none','none'], animation:false, emphasis:{disabled:true},
        data:[hLine(80,'#f23645',1.5), hLine(20,'#3cf06a',1.5), hLine(50,'rgba(140,145,160,0.75)',1.5,[5,5])]}}, noSym),
    Object.assign({type:'line', xAxisIndex:1, yAxisIndex:1, z:4, data:stochK, lineStyle:{color:'#d8f03c', width:5}}, noSym),
    Object.assign({type:'line', xAxisIndex:1, yAxisIndex:1, z:5, data:stochTrend, lineStyle:{color:'#ffffff', width:6}}, noSym),
    Object.assign({type:'line', xAxisIndex:1, yAxisIndex:1, z:5, data:stochArrow, lineStyle:{color:'#ffeb3b', width:3}}, noSym),
    Object.assign({type:'line', xAxisIndex:1, yAxisIndex:1, z:5, data:stochArrowHead, lineStyle:{color:'#ffeb3b', width:4}}, noSym),

    // ---- RSI pane ----
    Object.assign({type:'line', xAxisIndex:2, yAxisIndex:2, z:3, data:rsi, lineStyle:{color:'#c46fd6', width:2},
      markLine:{silent:true, symbol:['none','none'], animation:false, emphasis:{disabled:true},
        data:[hLine(70,'#33ff33',2.5), hLine(30,'#f23645',1.5)]}}, noSym),
    Object.assign({type:'line', xAxisIndex:2, yAxisIndex:2, z:4, data:rsiMA, lineStyle:{color:'#ffeb3b', width:3}}, noSym)
  ]
};
chart.setOption(option);
</script></body></html>
